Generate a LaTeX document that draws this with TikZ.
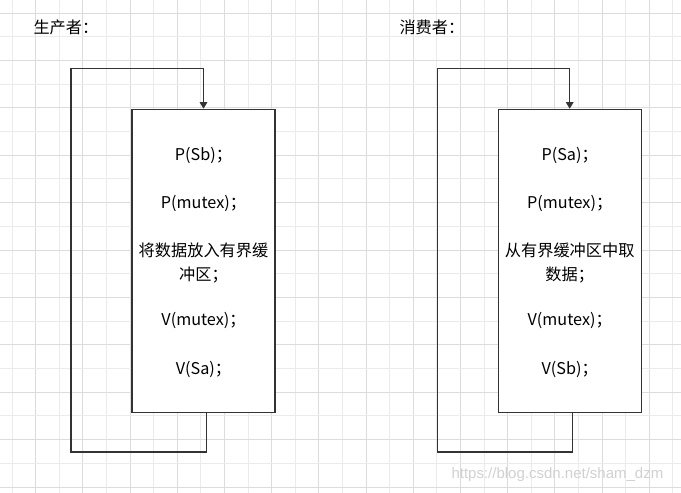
\documentclass[tikz,border=0pt]{standalone}
\usepackage{fontspec}
\newfontfamily\cjk{Noto Sans CJK SC}
\newfontfamily\wmfont{Liberation Sans}
\usetikzlibrary{arrows.meta,positioning}
\definecolor{linegray}{HTML}{333333}
\definecolor{griddark}{HTML}{DCDCDC}
\definecolor{gridlight}{HTML}{EBEBEB}

\begin{document}
\begin{tikzpicture}[
  x=1pt, y=-1pt,
  box/.style={draw=linegray, line width=1.2pt, align=center, minimum width=143pt, minimum height=303pt, inner sep=0pt},
  flow/.style={draw=linegray, line width=1.2pt, -{Triangle[width=7.5pt,length=6.5pt]}},
  every node/.style={font=\cjk\fontsize{16.2}{23.7}\selectfont, text=black}
]
\useasboundingbox (0,0) rectangle (681,493);
\fill[white] (0,0) rectangle (681,493);

% background grid
\foreach \i in {0,...,28} {
  \pgfmathsetmacro{\gx}{12+23.6*\i}
  \ifodd\i \def\gc{griddark}\else\def\gc{gridlight}\fi
  \draw[\gc, line width=1pt] (\gx,0) -- (\gx,493);
}
\foreach \j in {0,...,20} {
  \pgfmathsetmacro{\gy}{13+23.7*\j}
  \ifodd\j \def\gc{gridlight}\else\def\gc{griddark}\fi
  \draw[\gc, line width=1pt] (0,\gy) -- (681,\gy);
}

\node[anchor=west] (prodtitle) at (30,27.5) {生产者：};
\node[anchor=west] (constitle) at (396,27.5) {消费者：};

\node[box, fill=white] (prod) at (203.5,260.8)
  {\rule{0pt}{16pt}P(Sb)；\\[24.6pt] P(mutex)；\\[24.3pt] 将数据放入有界缓\\冲区；\\[22pt] V(mutex)；\\[24.6pt] V(Sa)；};
\node[box, fill=white] (cons) at (569.7,260.8)
  {\rule{0pt}{16pt}P(Sa)；\\[24.6pt] P(mutex)；\\[24.3pt] 从有界缓冲区中取\\数据；\\[22pt] V(mutex)；\\[24.6pt] V(Sb)；};

% loops back to the top
\coordinate (prodlow) at (71,452);
\coordinate (conslow) at (437.3,452);
\draw[flow] ([xshift=2.8pt]prod.south) |- (prodlow) |- ([yshift=40pt]prod.north) -- (prod.north);
\draw[flow] ([xshift=2.8pt]cons.south) |- (conslow) |- ([yshift=40pt]cons.north) -- (cons.north);

\node[anchor=west, font=\wmfont\fontsize{15}{18}\selectfont, text=black!18] (mark) at (448,475) {https://blog.csdn.net/sham\_dzm};
\end{tikzpicture}
\end{document}
